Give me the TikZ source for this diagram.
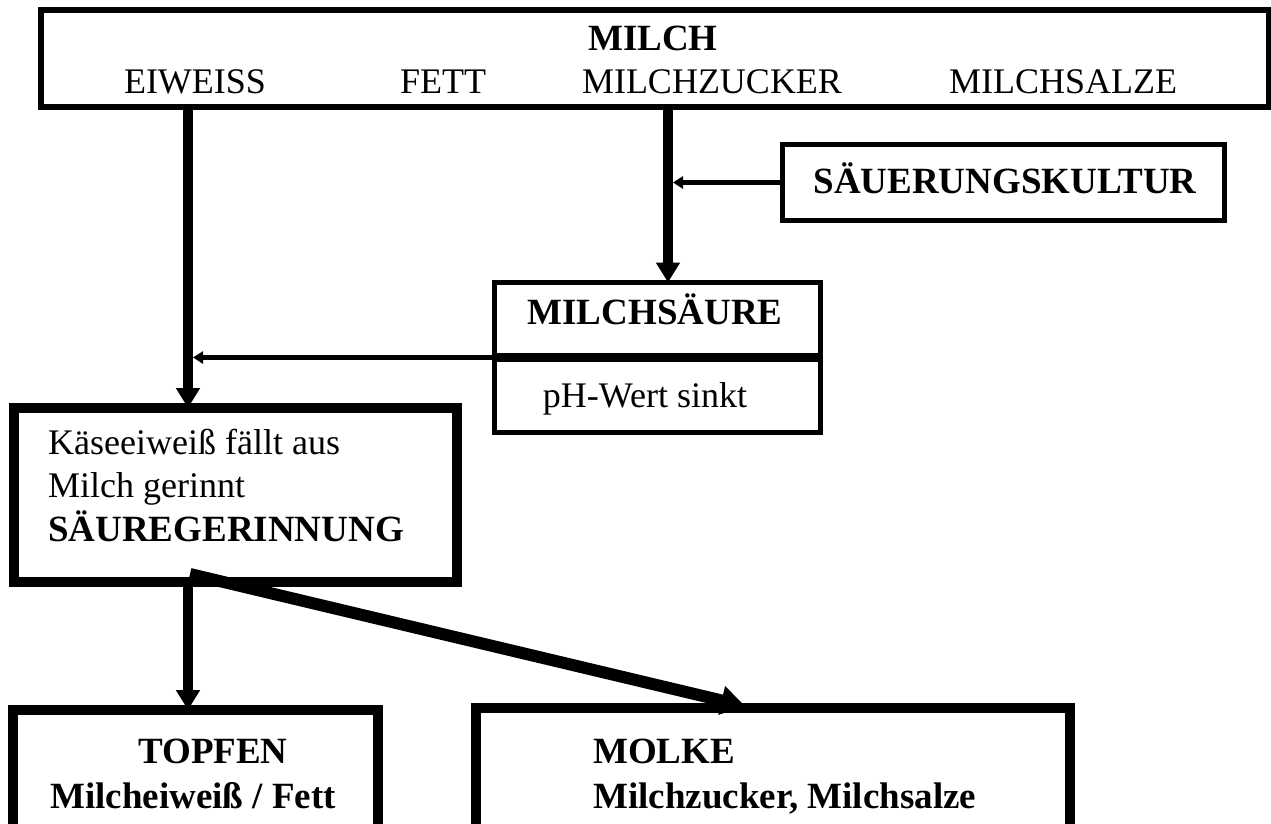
\documentclass[tikz,border=0pt]{standalone}
\usepackage{fontspec}
\setmainfont{Liberation Serif}
\usetikzlibrary{arrows.meta}
\begin{document}
\begin{tikzpicture}[x=1pt,y=-1pt,
  box/.style={draw, rectangle, inner sep=0pt, outer sep=0pt},
  txt/.style={inner sep=0pt, font=\fontsize{36}{42}\selectfont},
  btxt/.style={inner sep=0pt, font=\fontsize{37}{42}\selectfont\bfseries},
  bigarrow/.style={line width=10pt, -{Triangle[width=23pt,length=20pt]}},
  diagarrow/.style={line width=12pt, -{Triangle[width=28pt,length=24pt]}},
  thinarrow/.style={line width=4.5pt, -{Triangle[width=12pt,length=10pt]}}]
\fill[white] (0,0) rectangle (1271,823);
\useasboundingbox (0,0) rectangle (1271,823);
\clip (0,0) rectangle (1271,823);

% boxes
\node[box, line width=6pt, minimum width=1228pt, minimum height=97pt] (top) at (655,58.5) {};
\node[box, line width=5pt, minimum width=442pt, minimum height=76pt] (sk) at (1003.5,182.5) {};
\node[box, line width=5pt, minimum width=326pt, minimum height=150pt] (ms) at (657.5,357.5) {};
\draw[line width=9pt] (ms.west) -- (ms.east);
\node[box, line width=10pt, minimum width=443pt, minimum height=174pt] (kg) at (235.5,495) {};
\node[box, line width=10pt, minimum width=365pt, minimum height=122pt] (tf) at (195.5,771) {};
\node[box, line width=10pt, minimum width=594pt, minimum height=124pt] (mo) at (773,770) {};

% texts
\node[btxt, anchor=base] (milch) at (653,50) {MILCH};
\node[txt, anchor=base] (eiw) at (195,93) {EIWEISS};
\node[txt, anchor=base] (fett) at (443,93) {FETT};
\node[txt, anchor=base] (mz) at (712,93) {MILCHZUCKER};
\node[txt, anchor=base] (msz) at (1063,93) {MILCHSALZE};
\node[btxt, anchor=base] (skt) at (1005,193) {SÄUERUNGSKULTUR};
\node[btxt, anchor=base] (mst) at (655,324) {MILCHSÄURE};
\node[txt, anchor=base] (ph) at (645,407) {pH-Wert sinkt};
\node[txt, anchor=base west] (k1) at (48,454) {Käseeiweiß fällt aus};
\node[txt, anchor=base west] (k2) at (48,497) {Milch gerinnt};
\node[btxt, anchor=base west] (k3) at (48,541) {SÄUREGERINNUNG};
\node[btxt, anchor=base] (tf1) at (213,763) {TOPFEN};
\node[btxt, anchor=base] (tf2) at (193,808) {Milcheiweiß / Fett};
\node[btxt, anchor=base west] (mo1) at (593,763) {MOLKE};
\node[btxt, anchor=base west] (mo2) at (593,808) {Milchzucker, Milchsalze};

% connector helpers
\coordinate (xe) at (188,0);
\coordinate (xm) at (668,0);
\coordinate (skhit) at (673,182.5);
\coordinate (mshit) at (193,357.5);
\coordinate (dstart) at (190,574);
\coordinate (dend) at (745,706);

% connectors
\draw[bigarrow] (top.south -| xe) -- (kg.north -| xe);
\draw[bigarrow] (top.south -| xm) -- (ms.north -| xm);
\draw[thinarrow] (sk.west) -- (skhit);
\draw[thinarrow] (ms.west) -- (mshit);
\draw[bigarrow] (kg.south -| xe) -- (tf.north -| xe);
\draw[diagarrow] (dstart) -- (dend);
\end{tikzpicture}
\end{document}
